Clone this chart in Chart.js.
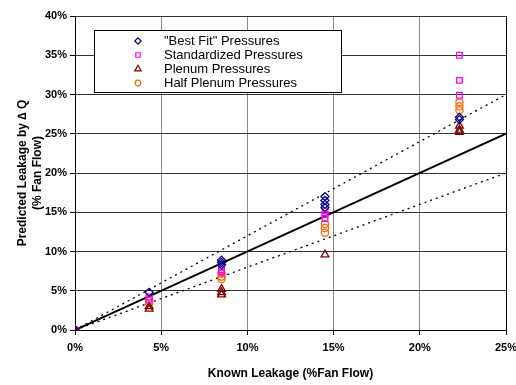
<!DOCTYPE html>
<html>
<head>
<meta charset="utf-8">
<script src="https://cdn.jsdelivr.net/npm/chart.js@4/dist/chart.umd.min.js"></script>
<style>
  html, body { margin: 0; padding: 0; background: #fff; }
  #wrap { width: 516px; height: 385px; position: relative; }
</style>
</head>
<body>
<div id="wrap"><canvas id="chart" width="516" height="385"></canvas></div>
<script>
// Known leakage (% fan flow) vs predicted leakage (% fan flow)
const bestFitX = [0, 4.3, 8.5, 8.5, 8.5, 14.5, 14.5, 14.5, 14.5, 22.3, 22.3];
const bestFitY = [0, 4.8, 8.9, 8.6, 8.3, 17.0, 16.5, 16.0, 15.6, 27.1, 26.8];

const standardX = [0, 4.3, 4.3, 8.5, 8.5, 8.5, 14.5, 14.5, 14.5, 22.3, 22.3, 22.3];
const standardY = [0, 4.2, 3.9, 8.0, 7.7, 7.4, 15.2, 14.7, 14.2, 35.0, 31.8, 29.9];

const plenumX = [0, 4.3, 4.3, 8.5, 8.5, 8.5, 14.5, 22.3, 22.3, 22.3];
const plenumY = [0, 3.0, 2.7, 5.2, 4.8, 4.5, 9.6, 26.0, 25.5, 25.2];

const halfPlenumX = [0, 4.3, 4.3, 8.5, 8.5, 8.5, 14.5, 14.5, 14.5, 22.3, 22.3, 22.3];
const halfPlenumY = [0, 3.7, 3.4, 7.2, 6.8, 6.5, 13.5, 13.0, 12.4, 29.0, 28.5, 28.0];

// reference lines: 1:1 and +/-20%
const lineX = [0, 25];
const oneToOneY = [0, 25];
const upperY = [0, 30];
const lowerY = [0, 20];

const pts = (xs, ys) => xs.map((x, i) => ({ x: x, y: ys[i] }));

const series = [
  { label: '"Best Fit" Pressures', color: '#000080', style: 'rectRot', data: pts(bestFitX, bestFitY), r: 4 },
  { label: 'Standardized Pressures', color: '#ff00ff', style: 'rect', data: pts(standardX, standardY), r: 4 },
  { label: 'Plenum Pressures', color: '#800000', style: 'triangle', data: pts(plenumX, plenumY), r: 4.5 },
  { label: 'Half Plenum Pressures', color: '#ff6600', style: 'circle', data: pts(halfPlenumX, halfPlenumY), r: 3.6 }
];

const FONT = 'Arial, "Liberation Sans", sans-serif';

// legend box drawn inside the plot, like the original
const boxLegend = {
  id: 'boxLegend',
  afterDraw(chart) {
    const ctx = chart.ctx;
    const x0 = 94.5, y0 = 30.5, w = 247, h = 62;
    ctx.save();
    ctx.fillStyle = '#fff';
    ctx.fillRect(x0, y0, w, h);
    ctx.strokeStyle = '#000';
    ctx.lineWidth = 1;
    ctx.strokeRect(x0, y0, w, h);
    ctx.font = '13px ' + FONT;
    ctx.textBaseline = 'middle';
    series.forEach((s, i) => {
      const y = 41 + i * 14;
      ctx.strokeStyle = s.color;
      ctx.fillStyle = 'rgba(0,0,0,0)';
      ctx.lineWidth = 1.2;
      Chart.helpers.drawPoint(ctx, { pointStyle: s.style, radius: s.r - 0.8, borderWidth: 1.2 }, 138, y);
      ctx.fillStyle = '#000';
      ctx.fillText(s.label, 164, y);
    });
    ctx.restore();
  }
};

const datasets = series.map(s => ({
  type: 'scatter',
  label: s.label,
  data: s.data,
  pointStyle: s.style,
  pointRadius: s.r,
  pointBorderColor: s.color,
  pointBackgroundColor: 'rgba(0,0,0,0)',
  pointBorderWidth: 1.3
}));

datasets.push({
  type: 'line', label: '1:1', data: pts(lineX, oneToOneY),
  borderColor: '#000', borderWidth: 2, pointRadius: 0
});
datasets.push({
  type: 'line', label: '+20%', data: pts(lineX, upperY),
  borderColor: '#000', borderWidth: 1.3, borderDash: [2, 4], pointRadius: 0
});
datasets.push({
  type: 'line', label: '-20%', data: pts(lineX, lowerY),
  borderColor: '#000', borderWidth: 1.3, borderDash: [2, 4], pointRadius: 0
});

new Chart(document.getElementById('chart'), {
  data: { datasets: datasets },
  options: {
    responsive: false,
    animation: false,
    layout: { padding: { top: 16, right: 10, left: 0, bottom: 0 } },
    plugins: { legend: { display: false }, tooltip: { enabled: false } },
    scales: {
      x: {
        type: 'linear', min: 0, max: 25,
        ticks: {
          stepSize: 5, color: '#000', padding: 6,
          font: { family: FONT, size: 11, weight: 'bold' },
          callback: v => v + '%'
        },
        grid: {
          color: ctx => (ctx.tick && ctx.tick.value === 25) ? '#000' : '#888',
          tickLength: 5, tickColor: '#000'
        },
        border: { color: '#000', width: 1 },
        title: {
          display: true, text: 'Known Leakage (%Fan Flow)', color: '#000',
          font: { family: FONT, size: 12, weight: 'bold' }, padding: { top: 22 }
        },
        afterFit: s => { s.height = 55; s.paddingRight = 0; s.paddingLeft = 0; }
      },
      y: {
        type: 'linear', min: 0, max: 40,
        ticks: {
          stepSize: 5, color: '#000', padding: 3,
          font: { family: FONT, size: 11, weight: 'bold' },
          callback: v => v + '%'
        },
        grid: { color: '#333', tickLength: 5, tickColor: '#000' },
        border: { color: '#000', width: 1 },
        title: {
          display: true, text: ['Predicted Leakage by \u2206 Q', '(% Fan Flow)'], color: '#000',
          font: { family: FONT, size: 12, weight: 'bold', lineHeight: 1.25 }, padding: { top: 15, bottom: 6 }
        },
        afterFit: s => { s.width = 75; s.paddingTop = 0; s.paddingBottom = 0; }
      }
    }
  },
  plugins: [boxLegend]
});
</script>
</body>
</html>
